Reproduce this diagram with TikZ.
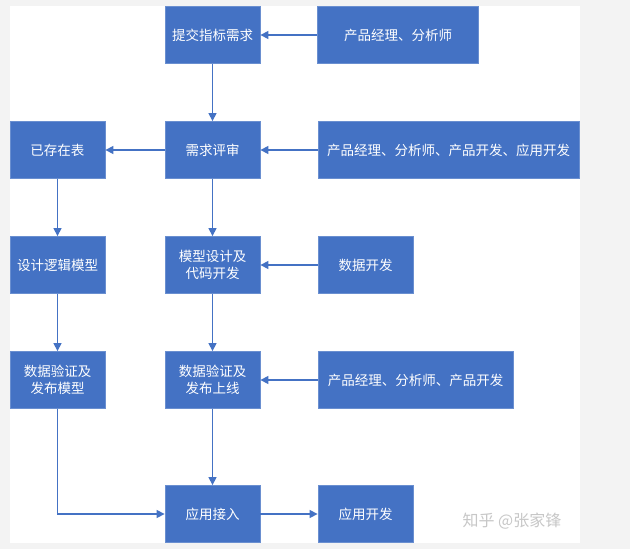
\documentclass[tikz,border=0pt]{standalone}
\usepackage{fontspec}
\setmainfont{Noto Sans CJK SC}
\usepackage{tikz}
\usetikzlibrary{arrows.meta}
\definecolor{boxblue}{HTML}{4472C4}
\definecolor{edgeblue}{HTML}{6A8FD0}
\definecolor{pagegray}{HTML}{F3F3F3}
\tikzset{
  box/.style={fill=boxblue, draw=edgeblue, line width=0.8pt, text=white, inner sep=0pt,
    minimum height=57pt, align=center, font=\fontsize{13.5}{17.5}\selectfont},
  arr/.style={draw=boxblue, line width=1.3pt, -{Triangle[length=8pt,width=8pt]}}
}

\begin{document}
\begin{tikzpicture}[x=1pt, y=-1pt]
        % Page
        \fill[pagegray] (0,0) rectangle (630,549);
        \fill[white] (10,6) rectangle (580,543);
        \useasboundingbox (0,0) rectangle (630,549);

        % Boxes
        \node[box, minimum width=95pt]  (tijiao)   at (212.5,35)  {提交指标需求};
        \node[box, minimum width=161pt] (pmA)      at (398,35)    {产品经理、分析师};

        \node[box, minimum width=95pt]  (yicun)    at (57.5,150)  {已存在表};
        \node[box, minimum width=95pt]  (pingshen) at (212.5,150) {需求评审};
        \node[box, minimum width=261pt] (pmB)      at (448.5,150) {产品经理、分析师、产品开发、应用开发};

        \node[box, minimum width=95pt]  (luoji)    at (57.5,265)  {设计逻辑模型};
        \node[box, minimum width=95pt]  (moxing)   at (212.5,265) {模型设计及\\代码开发};
        \node[box, minimum width=95pt]  (shuju)    at (365.5,265) {数据开发};

        \node[box, minimum width=95pt]  (fabumx)   at (57.5,380)  {数据验证及\\发布模型};
        \node[box, minimum width=95pt]  (fabusx)   at (212.5,380) {数据验证及\\发布上线};
        \node[box, minimum width=195pt] (pmC)      at (415.5,380) {产品经理、分析师、产品开发};

        \node[box, minimum width=95pt]  (jieru)    at (212.5,514) {应用接入};
        \node[box, minimum width=95pt]  (kaifa)    at (365.5,514) {应用开发};

        % Arrows
        \draw[arr] (pmA) -- (tijiao);
        \draw[arr] (tijiao) -- (pingshen);
        \draw[arr] (pingshen) -- (yicun);
        \draw[arr] (pmB) -- (pingshen);
        \draw[arr] (yicun) -- (luoji);
        \draw[arr] (pingshen) -- (moxing);
        \draw[arr] (shuju) -- (moxing);
        \draw[arr] (luoji) -- (fabumx);
        \draw[arr] (moxing) -- (fabusx);
        \draw[arr] (pmC) -- (fabusx);
        \draw[arr] (fabusx) -- (jieru);
        \draw[arr] (fabumx.south) |- (jieru.west);
        \draw[arr] (jieru) -- (kaifa);

        % Watermark
        \node[text=black!22, font=\fontsize{16}{18}\selectfont] (zhihu) at (512,521) {知乎 @张家锋};
\end{tikzpicture}
\end{document}
